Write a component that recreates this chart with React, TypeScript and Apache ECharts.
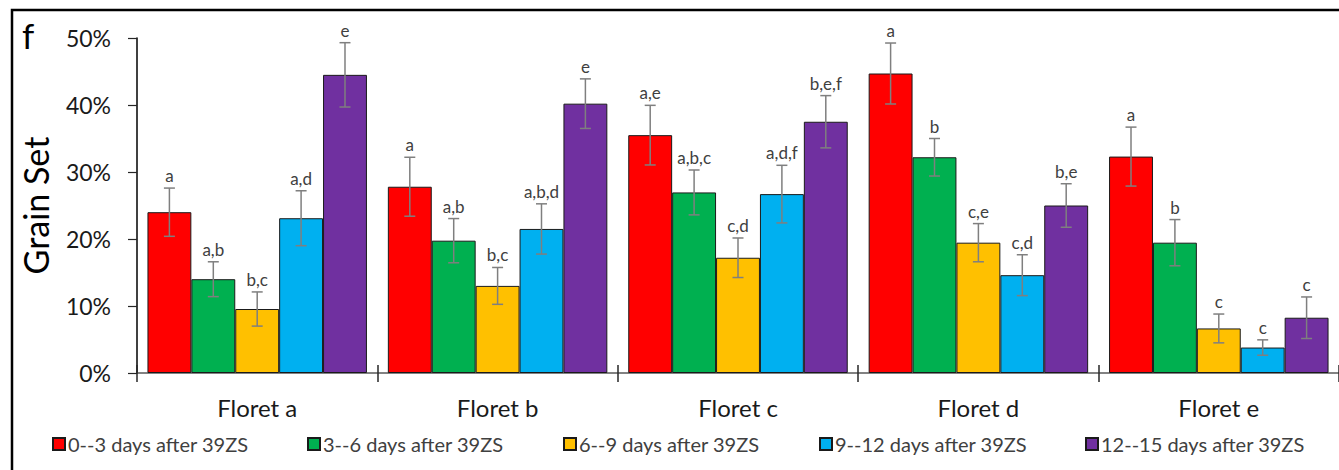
import React, { useEffect, useRef } from "react";
import * as echarts from "echarts";

const categories = ["Floret a", "Floret b", "Floret c", "Floret d", "Floret e"];
const seriesNames = [
  "0--3 days after 39ZS",
  "3--6 days after 39ZS",
  "6--9 days after 39ZS",
  "9--12 days after 39ZS",
  "12--15 days after 39ZS",
];
const colors = ["#FF0000", "#00B050", "#FFC000", "#00B0F0", "#7030A0"];
const yTicks = [0, 10, 20, 30, 40, 50];

const day0to3 = [24.0, 27.8, 35.5, 44.7, 32.3];
const day3to6 = [14.0, 19.75, 26.95, 32.2, 19.45];
const day6to9 = [9.55, 13.0, 17.2, 19.45, 6.65];
const day9to12 = [23.1, 21.5, 26.7, 14.6, 3.8];
const day12to15 = [44.5, 40.2, 37.5, 25.0, 8.25];

const err0to3 = [3.6, 4.4, 4.45, 4.55, 4.4];
const err3to6 = [2.6, 3.3, 3.35, 2.8, 3.45];
const err6to9 = [2.55, 2.75, 2.95, 2.85, 2.15];
const err9to12 = [4.1, 3.75, 4.3, 3.05, 1.15];
const err12to15 = [4.8, 3.7, 3.9, 3.25, 3.1];

const let0to3 = ["a", "a", "a,e", "a", "a"];
const let3to6 = ["a,b", "a,b", "a,b,c", "b", "b"];
const let6to9 = ["b,c", "b,c", "c,d", "c,e", "c"];
const let9to12 = ["a,d", "a,b,d", "a,d,f", "c,d", "c"];
const let12to15 = ["e", "e", "b,e,f", "b,e", "c"];

const values = [day0to3, day3to6, day6to9, day9to12, day12to15];
const errors = [err0to3, err3to6, err6to9, err9to12, err12to15];
const letters = [let0to3, let3to6, let6to9, let9to12, let12to15];

const FONT = "Lato, 'Open Sans', sans-serif";
const CAT_GAP = 0.087;
const legendX = [52, 307, 563, 819, 1085];

export default function App() {
  const ref = useRef<HTMLDivElement>(null);
  useEffect(() => {
    if (!ref.current) return;
    const chart = echarts.init(ref.current, null, { renderer: "svg" });

    const barSeries = seriesNames.map((name, i) => ({
      name,
      type: "bar",
      xAxisIndex: 0,
      data: values[i],
      barGap: "0%",
      barCategoryGap: CAT_GAP * 100 + "%",
      itemStyle: { color: colors[i], borderColor: "#1a1a1a", borderWidth: 1 },
      emphasis: { disabled: true },
    }));

    const errSeries = seriesNames.map((name, i) => ({
      type: "custom",
      name: name + " err",
      xAxisIndex: 0,
      z: 10,
      data: values[i].map((v, j) => [j, v, errors[i][j]]),
      encode: { x: 0, y: 1 },
      renderItem: (params: any, api: any) => {
        const idx = api.value(0);
        const v = api.value(1);
        const e = api.value(2);
        const lab = letters[i][params.dataIndex];
        const band = api.size([1, 0])[0];
        const barW = (band * (1 - CAT_GAP)) / 5;
        const c = api.coord([idx, v]);
        const x = c[0] + (i - 2) * barW;
        const top = api.coord([idx, v + e])[1];
        const bot = api.coord([idx, v - e])[1];
        const cap = 5.5;
        const st = { stroke: "#7f7f7f", lineWidth: 1.5 };
        return {
          type: "group",
          children: [
            { type: "line", shape: { x1: x, y1: top, x2: x, y2: bot }, style: st },
            { type: "line", shape: { x1: x - cap, y1: top, x2: x + cap, y2: top }, style: st },
            { type: "line", shape: { x1: x - cap, y1: bot, x2: x + cap, y2: bot }, style: st },
            {
              type: "text",
              x,
              y: top - 4,
              style: {
                text: lab,
                fill: "#404040",
                font: "17px " + FONT,
                align: "center",
                verticalAlign: "bottom",
              },
            },
          ],
        };
      },
    }));

    const legends = seriesNames.map((name, i) => ({
      data: [name],
      left: legendX[i],
      top: 434,
      orient: "horizontal",
      itemWidth: 12,
      itemHeight: 12,
      itemGap: 0,
      icon: "rect",
      padding: 0,
      selectedMode: false,
      textStyle: { color: "#404040", fontSize: 20, fontFamily: FONT, padding: [0, 0, 0, -2] },
    }));

    chart.setOption({
      animation: false,
      backgroundColor: "#ffffff",
      textStyle: { fontFamily: FONT },
      grid: { left: 137, right: -3, top: 38, bottom: 97, containLabel: false },
      legend: legends,
      xAxis: [
        {
          type: "category",
          data: categories,
          position: "bottom",
          axisLine: { lineStyle: { color: "#595959", width: 1.5 } },
          axisTick: { show: true, length: 9, lineStyle: { color: "#262626", width: 1.5 } },
          axisLabel: { fontSize: 24, color: "#1a1a1a", margin: 22, fontFamily: FONT },
        },
        {
          type: "category",
          data: categories,
          position: "bottom",
          axisLine: { show: false },
          axisTick: { show: true, inside: true, length: 8, lineStyle: { color: "#262626", width: 1.5 } },
          axisLabel: { show: false },
        },
      ],
      yAxis: {
        type: "value",
        min: yTicks[0],
        max: yTicks[yTicks.length - 1],
        interval: 10,
        name: "Grain Set",
        nameLocation: "middle",
        nameGap: 85,
        nameTextStyle: { fontSize: 34, color: "#000", fontFamily: FONT },
        axisLine: { show: true, lineStyle: { color: "#000", width: 1.5 } },
        axisTick: { show: true, length: 9, lineStyle: { color: "#262626", width: 1.2 } },
        splitLine: { show: false },
        axisLabel: {
          formatter: "{value}%",
          fontSize: 23,
          color: "#1a1a1a",
          margin: 26,
          fontFamily: FONT,
        },
      },
      graphic: [
        {
          type: "rect",
          shape: { x: 12, y: 10, width: 1400, height: 500 },
          style: { fill: "none", stroke: "#000", lineWidth: 2.5 },
          silent: true,
        },
        {
          type: "text",
          left: 22,
          top: 17,
          style: { text: "f", font: "35px " + FONT, fill: "#000" },
        },
      ],
      series: [...barSeries, ...errSeries],
    });
    return () => chart.dispose();
  }, []);
  return (
    <div
      ref={ref}
      style={{ position: "fixed", left: 0, top: 0, width: 1339, height: 470 }}
    />
  );
}
